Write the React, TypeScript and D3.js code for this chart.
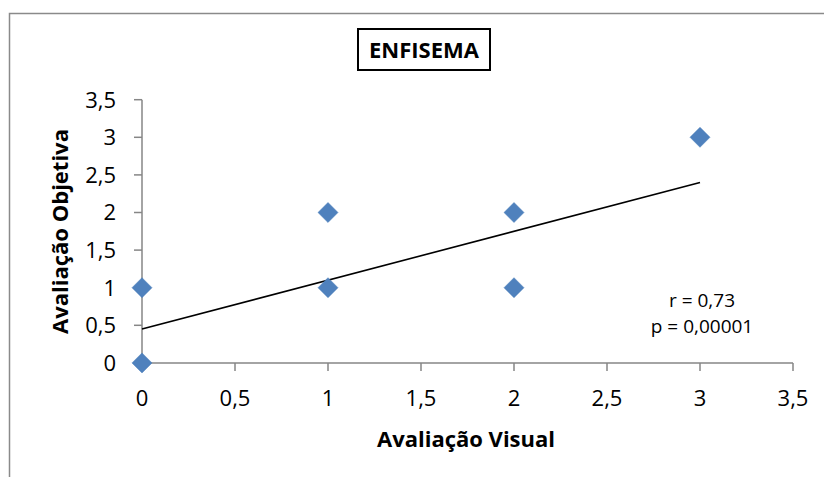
import React from "react";
import * as d3 from "d3";

const visual = [0, 0, 1, 1, 2, 2, 3];
const objetiva = [0, 1, 1, 2, 2, 1, 3];
const xTicks = [0, 0.5, 1, 1.5, 2, 2.5, 3, 3.5];
const yTicks = [0, 0.5, 1, 1.5, 2, 2.5, 3, 3.5];
const trendIntercept = 0.45;
const trendSlope = 0.65;
const trendRange = [0, 3];
const title = "ENFISEMA";
const xTitle = "Avaliação Visual";
const yTitle = "Avaliação Objetiva";
const notes = ["r = 0,73", "p = 0,00001"];

const fmt = (v: number) => String(v).replace(".", ",");

export default function App() {
  const x = d3.scaleLinear().domain([0, 3.5]).range([142, 793]);
  const y = d3.scaleLinear().domain([0, 3.5]).range([362.9, 99.7]);
  const axisColor = "#868686";
  const font = "'Open Sans', 'Noto Sans', sans-serif";
  const diamond = d3.symbol().type(d3.symbolSquare).size(200)();
  const line = d3
    .line<number>()
    .x((d) => x(d))
    .y((d) => y(trendIntercept + trendSlope * d));

  return (
    <svg
      width={824}
      height={477}
      style={{ position: "absolute", left: 0, top: 0, background: "#fff" }}
      fontFamily={font}
    >
      <rect x={0} y={0} width={824} height={477} fill="#fff" />
      <rect
        x={9.5}
        y={13.5}
        width={900}
        height={600}
        fill="none"
        stroke="#8a8a8a"
        strokeWidth={1.5}
      />
      {/* title */}
      <rect x={358} y={29} width={132} height={41} fill="#fff" stroke="#000" strokeWidth={2} />
      <text x={424} y={58.3} textAnchor="middle" fontSize={22} fontWeight="bold" fill="#000">
        {title}
      </text>
      {/* axes */}
      <line x1={x(0)} x2={x(3.5)} y1={y(0)} y2={y(0)} stroke={axisColor} strokeWidth={1.5} />
      <line x1={x(0)} x2={x(0)} y1={y(0)} y2={y(3.5)} stroke={axisColor} strokeWidth={1.5} />
      {xTicks.map((t) => (
        <g key={"xt" + t}>
          <line x1={x(t)} x2={x(t)} y1={y(0)} y2={y(0) + 8} stroke={axisColor} strokeWidth={1.5} />
          <text x={x(t)} y={406} textAnchor="middle" fontSize={22} fill="#000">
            {fmt(t)}
          </text>
        </g>
      ))}
      {yTicks.map((t) => (
        <g key={"yt" + t}>
          <line x1={x(0) - 8} x2={x(0)} y1={y(t)} y2={y(t)} stroke={axisColor} strokeWidth={1.5} />
          <text x={116} y={y(t) + 7.8} textAnchor="end" fontSize={22} fill="#000">
            {fmt(t)}
          </text>
        </g>
      ))}
      {/* axis titles */}
      <text x={466} y={446.5} textAnchor="middle" fontSize={22} fontWeight="bold" fill="#000">
        {xTitle}
      </text>
      <text
        transform={`translate(68,231.5) rotate(-90)`}
        textAnchor="middle"
        fontSize={22}
        fontWeight="bold"
        fill="#000"
      >
        {yTitle}
      </text>
      {/* trend line */}
      <path d={line(trendRange) || ""} fill="none" stroke="#000" strokeWidth={1.6} />
      {/* points */}
      {visual.map((v, i) => (
        <path
          key={"p" + i}
          d={diamond || ""}
          transform={`translate(${x(v)},${y(objetiva[i])}) rotate(45)`}
          fill="#4F81BD"
          stroke="#4A7EBB"
          strokeWidth={0.5}
        />
      ))}
      {/* notes */}
      {notes.map((n, i) => (
        <text key={n} x={702} y={306.7 + i * 26} textAnchor="middle" fontSize={19} fill="#000">
          {n}
        </text>
      ))}
    </svg>
  );
}
